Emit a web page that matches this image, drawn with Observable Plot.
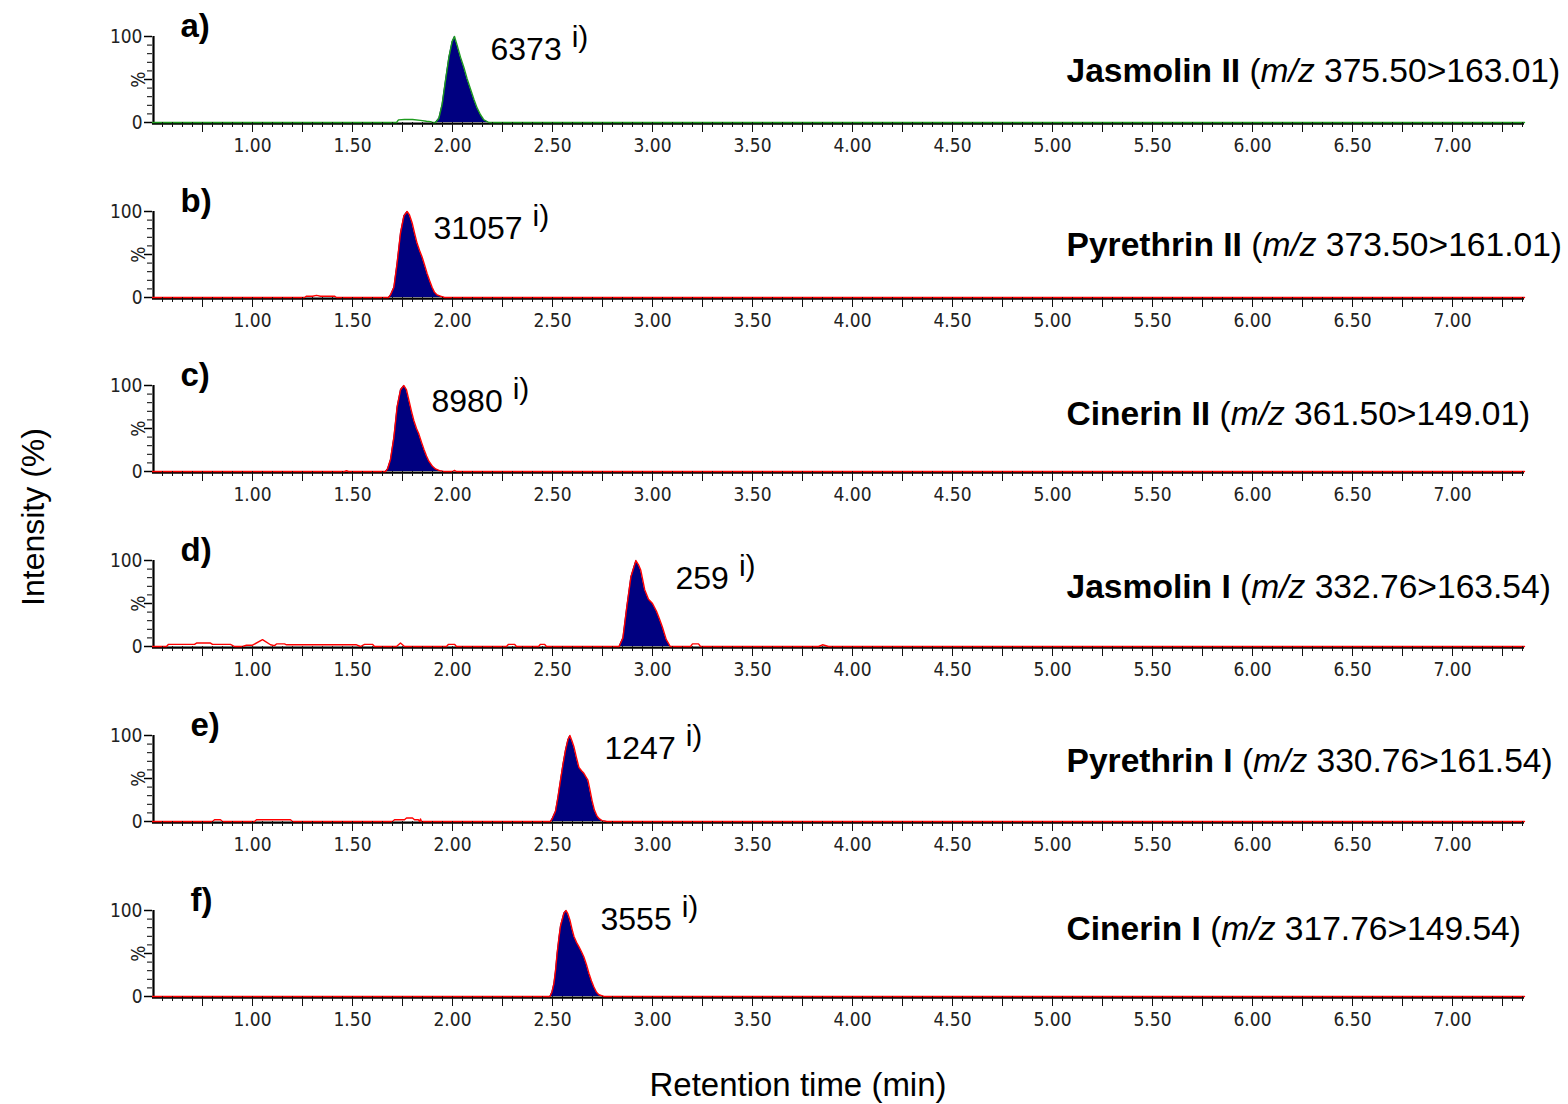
<!DOCTYPE html>
<html><head><meta charset="utf-8">
<script src="https://cdn.jsdelivr.net/npm/d3@7"></script>
<script src="https://cdn.jsdelivr.net/npm/@observablehq/plot@0.6"></script>
<style>
body{margin:0;background:#fff;}
#chart{position:relative;width:1568px;height:1104px;background:#fff;font-family:"Liberation Sans",Arial,Helvetica,sans-serif;color:#000;overflow:hidden;}
#chart svg{position:absolute;left:0;}
.ylab{position:absolute;left:33px;top:517px;transform:translate(-50%,-50%) rotate(-90deg);font-size:32px;white-space:nowrap;}
.xlab{position:absolute;left:798px;top:1085px;transform:translate(-50%,-50%);font-size:33px;white-space:nowrap;}
</style></head><body><div id="chart"></div>
<script>
// ---------- data ----------
const panelLetters = ["a)", "b)", "c)", "d)", "e)", "f)"];
const compounds = ["Jasmolin II", "Pyrethrin II", "Cinerin II", "Jasmolin I", "Pyrethrin I", "Cinerin I"];
const transitions = ["375.50>163.01", "373.50>161.01", "361.50>149.01", "332.76>163.54", "330.76>161.54", "317.76>149.54"];
const peakAreas = ["6373", "31057", "8980", "259", "1247", "3555"];
const peakSuffix = "i)";
const xTickValues = [1, 1.5, 2, 2.5, 3, 3.5, 4, 4.5, 5, 5.5, 6, 6.5, 7];
const xTickLabels = ["1.00", "1.50", "2.00", "2.50", "3.00", "3.50", "4.00", "4.50", "5.00", "5.50", "6.00", "6.50", "7.00"];
const yTickValues = [0, 100];
const yTickLabels = ["0", "100"];
const yUnit = "%";
const xTitle = "Retention time (min)";
const yTitle = "Intensity (%)";

// retention time (min) and intensity (%) for each trace
const tA = [0.5,1.72,1.73,1.76,1.80,1.84,1.87,1.89,1.90,1.915,1.932,1.948,1.965,1.982,1.998,2.01,2.023,2.04,2.057,2.073,2.09,2.107,2.123,2.14,2.157,2.182,7.36];
const iA = [0,0,3,3.5,3.5,2.5,1.5,1,0,0,5,21,49,76,94,100,90,76,64,51,39,27,17,9,3,0,0];
const tB = [0.5,1.26,1.27,1.30,1.32,1.34,1.41,1.42,1.68,1.69,1.707,1.723,1.74,1.757,1.773,1.785,1.798,1.81,1.823,1.835,1.848,1.86,1.873,1.885,1.898,1.91,1.923,1.94,1.96,7.36];
const iB = [0,0,1.5,1.5,2.5,1.5,1.5,0,0,3,12,40,75,95,100,96,87,75,63,55,47,38,28,20,12,6,3,1.5,0,0];
const tC = [0.5,1.46,1.47,1.48,1.665,1.675,1.69,1.707,1.723,1.74,1.757,1.77,1.782,1.795,1.807,1.82,1.832,1.845,1.857,1.87,1.882,1.9,1.915,1.935,1.957,2.0,2.01,2.02,7.36];
const iC = [0,0,1,0,0,3,14,40,75,95,100,95,83,70,59,50,43.5,34,26,18,12,6,3,1,0,0,1.2,0,0];
const tD = [0.5,0.57,0.58,0.71,0.72,0.79,0.80,0.89,0.91,0.95,0.97,1.00,1.05,1.09,1.11,1.12,1.16,1.17,1.52,1.54,1.56,1.60,1.61,1.72,1.74,1.76,1.97,1.98,2.01,2.02,2.27,2.28,2.31,2.32,2.43,2.44,2.46,2.47,2.833,2.852,2.872,2.892,2.917,2.93,2.941,2.961,2.98,3.0,3.02,3.035,3.049,3.069,3.089,3.19,3.20,3.23,3.24,3.83,3.85,3.88,7.36];
const iD = [0,0,2.5,2.5,4,4,2.5,2.5,0,0,1.5,1.5,8,2,1,3,3,2,2,0,2.5,2.5,0,0,4,0,0,2.5,2.5,0,0,2.5,2.5,0,0,2.5,2.5,0,0,10,47,81,100,95,89,66,55,50,41,32,23,8,0,0,3,3,0,0,2,0,0];
const tE = [0.5,0.80,0.81,0.84,0.85,1.01,1.02,1.19,1.20,1.70,1.71,1.76,1.77,1.80,1.81,1.83,1.835,1.84,1.845,2.49,2.50,2.515,2.527,2.54,2.552,2.565,2.577,2.587,2.597,2.607,2.62,2.632,2.645,2.657,2.667,2.677,2.687,2.698,2.71,2.723,2.735,2.748,2.773,7.36];
const iE = [0,0,2,2,0,0,2,2,0,0,2,2,4,4,2,2,0,3,0,0,4,12,28,48,66,83,95,100,94,87,74,63,59,56,52,48,37,24,13,6,3,1,0,0];
const tF = [0.5,2.487,2.497,2.507,2.515,2.523,2.532,2.54,2.557,2.568,2.577,2.587,2.597,2.607,2.62,2.632,2.645,2.657,2.67,2.682,2.695,2.707,2.72,2.732,2.757,7.36];
const iF = [0,0,5,15,30,50,68,82,97,100,96,89,79,70,63,58,52,46,37,27,18,11,5,2,0,0];
// integration window (start, end) of each peak, min
const integration = [[1.915,2.182],[1.68,1.96],[1.665,1.957],[2.833,3.089],[2.49,2.773],[2.487,2.757]];
const timeRange = [0.5, 7.36];

// ---------- layout / style ----------
const traceColors = ["#1e9b1e", "#ff0000", "#ff0000", "#ff0000", "#ff0000", "#ff0000"];
const peakFill = "#000080";
const W = 1568, H = 175, mT = 30, mB = 59, mL = 152, mR = 44;
const firstTop = 36, step = 174.7;
// annotation anchors in data coordinates
const areaPos = [[2.19,72.7],[1.905,67.7],[1.895,69.7],[3.115,67],[2.76,72.4],[2.74,77.9]];
const namePos = [[5.07,46.7],[5.07,48.7],[5.07,54.2],[5.07,56.2],[5.07,57],[5.07,65.9]];
const letterPos = [[0.64,100],[0.64,100],[0.64,100],[0.64,100],[0.69,100],[0.69,100]];
const tickFont = "'Liberation Sans Narrow','Arial Narrow','DejaVu Sans Condensed',sans-serif";
const textFont = "'Liberation Sans',Arial,Helvetica,sans-serif";

const traces = [[tA,iA],[tB,iB],[tC,iC],[tD,iD],[tE,iE],[tF,iF]];
const minorTicks = d3.range(11, 148).filter(k => k % 5 !== 0).map(k => k * 0.05);
const majorTicks = d3.range(3, 30).map(k => k * 0.25);
const yMinor = [10,20,30,40,60,70,80,90];
const yMajor = [0,50,100];

const chart = document.getElementById("chart");

traces.forEach(([ts, vs], i) => {
  const rows = ts.map((t, k) => ({t, v: vs[k]}));
  const [w0, w1] = integration[i];
  const peak = rows.filter(d => d.t >= w0 && d.t <= w1);
  const nameText = compounds[i] + " (m/z " + transitions[i] + ")";
  const svg = Plot.plot({
    width: W, height: H,
    marginTop: mT, marginBottom: mB, marginLeft: mL, marginRight: mR,
    x: {domain: timeRange},
    y: {domain: [0, 100]},
    style: {background: "transparent", overflow: "visible", fontFamily: textFont, color: "#000"},
    marks: [
      Plot.areaY(peak, {x: "t", y: "v", fill: peakFill}),
      Plot.ruleY([0], {x1: timeRange[0], x2: timeRange[1], stroke: "#000", strokeWidth: 2.2, dy: 1.2}),
      Plot.ruleX([timeRange[0]], {y1: 0, y2: 100, stroke: "#000", strokeWidth: 2.2, dx: 1}),
      Plot.lineY(rows, {x: "t", y: "v", stroke: traceColors[i], strokeWidth: 1.4}),
      Plot.axisX(minorTicks, {tickSize: 5, tickFormat: () => "", label: null, stroke: "#111"}),
      Plot.axisX(majorTicks, {tickSize: 10, tickFormat: () => "", label: null, stroke: "#111"}),
      Plot.axisX(xTickValues, {tickSize: 0, tickPadding: 16, label: null, fill: "#222",
        tickFormat: d => xTickLabels[xTickValues.indexOf(d)], fontSize: 19, fontFamily: tickFont}),
      Plot.axisY(yMinor, {anchor: "left", tickSize: 5, tickFormat: () => "", label: null}),
      Plot.axisY(yMajor, {anchor: "left", tickSize: 8, label: null, tickFormat: () => "", strokeWidth: 1.5}),
      Plot.axisY(yTickValues, {anchor: "left", tickSize: 0, tickPadding: 10, label: null, fill: "#222",
        tickFormat: d => yTickLabels[yTickValues.indexOf(d)], fontSize: 19, fontFamily: tickFont}),
      Plot.text([yUnit], {x: () => timeRange[0], y: () => 50, text: d => d, rotate: -90, dx: -14,
        fontSize: 19, fontFamily: tickFont, fill: "#222"}),
      Plot.text([panelLetters[i]], {x: () => letterPos[i][0], y: () => letterPos[i][1], text: d => d,
        fontWeight: "bold", fontSize: 33, textAnchor: "start", lineAnchor: "bottom", fontFamily: textFont}),
      Plot.text([peakAreas[i]], {x: () => areaPos[i][0], y: () => areaPos[i][1], text: d => d,
        fontSize: 32, textAnchor: "start", lineAnchor: "bottom", fontFamily: textFont}),
      Plot.text([nameText], {x: () => namePos[i][0], y: () => namePos[i][1], text: d => d,
        fontSize: 33.6, textAnchor: "start", lineAnchor: "bottom", fontFamily: textFont})
    ]
  });
  // superscript and mixed-style runs
  d3.select(svg).selectAll("text").each(function() {
    const el = d3.select(this);
    const txt = this.textContent;
    if (txt === peakAreas[i]) {
      el.append("tspan").attr("dx", 10).attr("dy", -13).attr("font-size", 30).text(peakSuffix);
    } else if (txt === nameText) {
      el.text(null);
      el.append("tspan").attr("font-weight", "bold").text(compounds[i]);
      el.append("tspan").text(" (");
      el.append("tspan").attr("font-style", "italic").text("m/z");
      el.append("tspan").text(" " + transitions[i] + ")");
    }
  });
  svg.style.top = (firstTop + i * step - mT) + "px";
  chart.appendChild(svg);
});

const yl = document.createElement("div"); yl.className = "ylab"; yl.textContent = yTitle; chart.appendChild(yl);
const xl = document.createElement("div"); xl.className = "xlab"; xl.textContent = xTitle; chart.appendChild(xl);
</script></body></html>
